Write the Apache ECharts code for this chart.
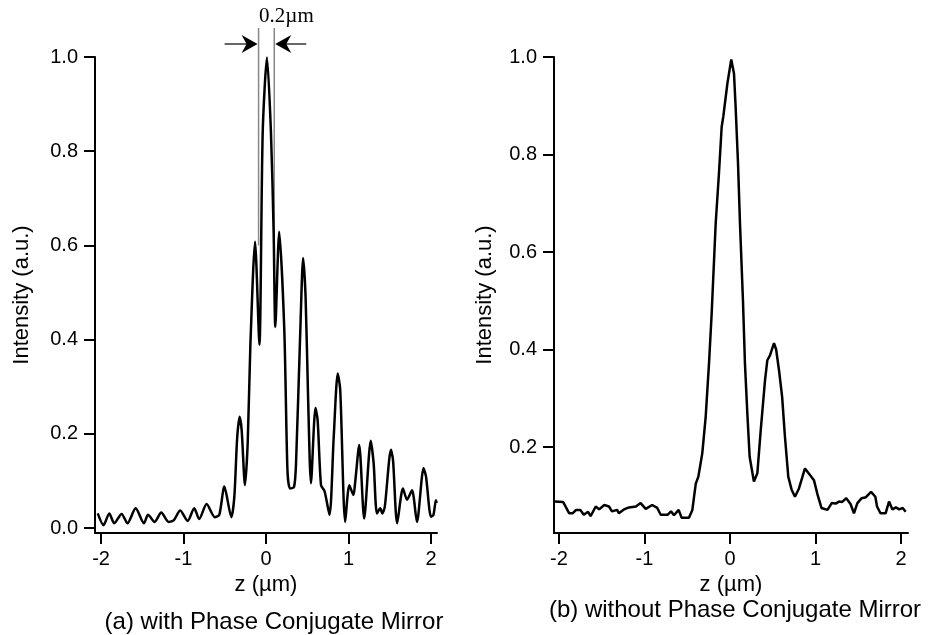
<!DOCTYPE html>
<html><head><meta charset="utf-8">
<script src="https://cdn.jsdelivr.net/npm/echarts@6/dist/echarts.min.js"></script>
<style>html,body{margin:0;padding:0;background:#fff}#c{width:931px;height:635px}</style>
</head><body><div id="c"></div>
<script>
// (a) with phase conjugate mirror
const zA = [-2.04,-1.97,-1.90,-1.84,-1.75,-1.68,-1.58,-1.48,-1.43,-1.35,-1.27,-1.18,-1.12,-1.04,-0.95,-0.87,-0.81,-0.72,-0.62,-0.566,-0.505,-0.42,-0.384,-0.35,-0.32,-0.295,-0.255,-0.222,-0.19,-0.133,-0.08,-0.04,0.012,0.06,0.093,0.113,0.16,0.222,0.26,0.29,0.34,0.364,0.416,0.45,0.48,0.51,0.545,0.60,0.626,0.667,0.71,0.77,0.82,0.87,0.90,0.96,1.01,1.06,1.08,1.13,1.19,1.27,1.305,1.345,1.385,1.41,1.44,1.515,1.54,1.59,1.66,1.71,1.77,1.83,1.91,1.94,2.0,2.03,2.06,2.07];
const iA = [0.031,0.006,0.031,0.010,0.030,0.010,0.042,0.010,0.028,0.013,0.033,0.013,0.016,0.037,0.015,0.042,0.019,0.051,0.023,0.028,0.088,0.023,0.066,0.190,0.236,0.208,0.091,0.180,0.385,0.608,0.389,0.840,0.999,0.840,0.626,0.427,0.629,0.420,0.123,0.084,0.087,0.137,0.420,0.573,0.490,0.279,0.095,0.255,0.229,0.091,0.078,0.028,0.190,0.328,0.293,0.013,0.091,0.070,0.095,0.176,0.020,0.185,0.137,0.031,0.042,0.031,0.045,0.166,0.144,0.010,0.084,0.060,0.080,0.013,0.127,0.109,0.024,0.028,0.059,0.053];
// (b) without phase conjugate mirror
const zB = [-2.05,-1.95,-1.88,-1.84,-1.80,-1.75,-1.71,-1.66,-1.63,-1.57,-1.53,-1.47,-1.415,-1.38,-1.32,-1.30,-1.24,-1.18,-1.10,-1.045,-0.985,-0.91,-0.85,-0.81,-0.73,-0.69,-0.655,-0.60,-0.565,-0.48,-0.44,-0.40,-0.37,-0.324,-0.284,-0.245,-0.214,-0.167,-0.129,-0.097,-0.078,-0.03,0.015,0.047,0.066,0.094,0.117,0.152,0.175,0.203,0.23,0.28,0.32,0.36,0.41,0.437,0.468,0.515,0.54,0.573,0.61,0.643,0.682,0.72,0.76,0.807,0.877,0.92,0.982,1.02,1.07,1.14,1.19,1.236,1.275,1.31,1.36,1.41,1.45,1.49,1.54,1.59,1.65,1.70,1.72,1.76,1.82,1.86,1.90,1.94,1.98,2.02,2.055];
const iB = [0.088,0.087,0.064,0.064,0.071,0.071,0.061,0.067,0.058,0.078,0.072,0.081,0.078,0.068,0.071,0.064,0.072,0.076,0.078,0.085,0.073,0.081,0.075,0.061,0.061,0.068,0.060,0.071,0.055,0.055,0.071,0.125,0.139,0.187,0.262,0.372,0.474,0.659,0.761,0.857,0.878,0.946,0.995,0.966,0.898,0.782,0.659,0.500,0.372,0.269,0.180,0.129,0.146,0.235,0.337,0.378,0.388,0.413,0.400,0.358,0.303,0.221,0.139,0.113,0.098,0.115,0.156,0.146,0.132,0.105,0.075,0.071,0.085,0.084,0.088,0.087,0.095,0.083,0.064,0.085,0.095,0.097,0.108,0.098,0.078,0.064,0.064,0.088,0.072,0.076,0.072,0.075,0.067];

const xTicks = [-2, -1, 0, 1, 2];
const yTicksA = [0, 0.2, 0.4, 0.6, 0.8, 1.0];
const yTicksB = [0.2, 0.4, 0.6, 0.8, 1.0];
const fwhmMarks = [-0.09, 0.10];
const annText = '0.2\u00b5m';
const xName = 'z (\u00b5m)';
const yName = 'Intensity (a.u.)';
const captions = ['(a) with Phase Conjugate Mirror', '(b) without Phase Conjugate Mirror'];

const FF = '"Liberation Sans", Arial, Helvetica, sans-serif';
const chart = echarts.init(document.getElementById('c'), null, {renderer: 'canvas'});

function mkX(gi, min, max) {
  return {
    type: 'value', gridIndex: gi, min: min, max: max,
    name: xName, nameLocation: 'middle', nameGap: 40,
    nameTextStyle: {fontSize: 22, color: '#000', fontFamily: FF},
    axisLine: {show: true, onZero: false, lineStyle: {color: '#000', width: 2}},
    axisTick: {show: true, length: 11, customValues: xTicks, lineStyle: {color: '#000', width: 2}},
    axisLabel: {show: true, customValues: xTicks, fontSize: 20, color: '#000', fontFamily: FF, margin: 16,
      formatter: v => String(v)},
    splitLine: {show: false}
  };
}
function mkY(gi, min, max, ticks, gap) {
  return {
    type: 'value', gridIndex: gi, min: min, max: max,
    name: yName, nameLocation: 'middle', nameGap: gap, nameRotate: 90,
    nameTextStyle: {fontSize: 22, color: '#000', fontFamily: FF},
    axisLine: {show: true, onZero: false, lineStyle: {color: '#000', width: 2}},
    axisTick: {show: true, length: 11, customValues: ticks, lineStyle: {color: '#000', width: 2}},
    axisLabel: {show: true, customValues: ticks, fontSize: 20, color: '#000', fontFamily: FF, margin: 17,
      formatter: v => v.toFixed(1)},
    splitLine: {show: false}
  };
}

chart.setOption({
  animation: false,
  backgroundColor: '#fff',
  grid: [
    {left: 95, top: 57, width: 342, height: 476},
    {left: 554, top: 57, width: 354, height: 476}
  ],
  xAxis: [mkX(0, -2.073, 2.073), mkX(1, -2.058, 2.082)],
  yAxis: [mkY(0, -0.0106, 1.0, yTicksA, 62), mkY(1, 0.0236, 1.0, yTicksB, 58)],
  series: [
    {type: 'line', xAxisIndex: 0, yAxisIndex: 0, showSymbol: false, smooth: 0.25,
     lineStyle: {color: '#000', width: 2.5}, data: zA.map((z, i) => [z, iA[i]])},
    {type: 'line', xAxisIndex: 1, yAxisIndex: 1, showSymbol: false, smooth: false,
     lineStyle: {color: '#000', width: 2.5}, data: zB.map((z, i) => [z, iB[i]])}
  ]
});

// annotation + captions
const pL = chart.convertToPixel({gridIndex: 0}, [fwhmMarks[0], 0.6]);
const pR = chart.convertToPixel({gridIndex: 0}, [fwhmMarks[1], 0.6]);
const top1 = chart.convertToPixel({gridIndex: 0}, [0, 1.0])[1];
const yLineTop = top1 - 29, yArrow = top1 - 13;
const gray = {stroke: '#888', lineWidth: 1.5};
const blk = {stroke: '#000', lineWidth: 1.2};
chart.setOption({
  graphic: [
    {type: 'line', shape: {x1: pL[0], y1: yLineTop, x2: pL[0], y2: pL[1]}, style: gray, z: 1},
    {type: 'line', shape: {x1: pR[0], y1: yLineTop, x2: pR[0], y2: pR[1]}, style: gray, z: 1},
    {type: 'line', shape: {x1: pL[0] - 34, y1: yArrow, x2: pL[0] - 6, y2: yArrow}, style: blk},
    {type: 'polygon', shape: {points: [[pL[0] - 1, yArrow], [pL[0] - 17, yArrow - 9], [pL[0] - 12, yArrow], [pL[0] - 17, yArrow + 9]]}, style: {fill: '#000'}},
    {type: 'line', shape: {x1: pR[0] + 6, y1: yArrow, x2: pR[0] + 32, y2: yArrow}, style: blk},
    {type: 'polygon', shape: {points: [[pR[0] + 1, yArrow], [pR[0] + 17, yArrow - 9], [pR[0] + 12, yArrow], [pR[0] + 17, yArrow + 9]]}, style: {fill: '#000'}},
    {type: 'text', x: (pL[0] + pR[0]) / 2 + 20, y: top1 - 41,
     style: {text: annText, font: '21px "Liberation Serif", "Times New Roman", serif', fill: '#000', textAlign: 'center', textVerticalAlign: 'middle'}},
    {type: 'text', x: 274, y: 622,
     style: {text: captions[0], font: '24px ' + FF, fill: '#000', textAlign: 'center', textVerticalAlign: 'middle'}},
    {type: 'text', x: 735, y: 610,
     style: {text: captions[1], font: '24px ' + FF, fill: '#000', textAlign: 'center', textVerticalAlign: 'middle'}}
  ]
});
</script>
</body></html>
